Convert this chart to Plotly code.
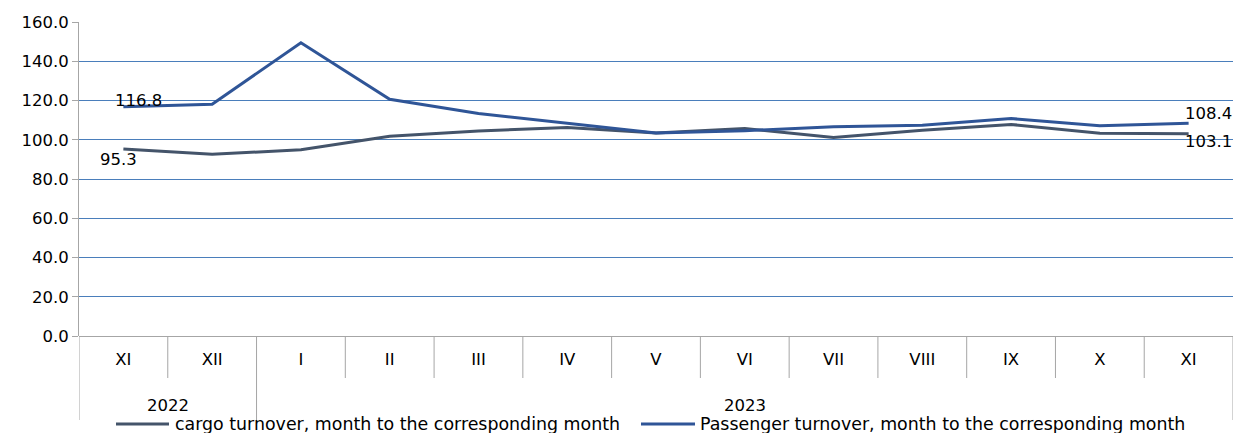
import plotly.graph_objects as go

years = ["2022", "2022", "2023", "2023", "2023", "2023", "2023", "2023", "2023", "2023", "2023", "2023", "2023"]
months = ["XI", "XII", "I", "II", "III", "IV", "V", "VI", "VII", "VIII", "IX", "X", "XI"]
cargo = [95.3, 92.6, 94.9, 101.8, 104.5, 106.2, 103.5, 105.7, 101.2, 104.8, 107.8, 103.3, 103.1]
passenger = [116.8, 118.1, 149.4, 120.6, 113.4, 108.3, 103.4, 104.6, 106.6, 107.4, 110.8, 107.1, 108.4]
cargo_name = "cargo turnover, month to the corresponding month"
pass_name = "Passenger turnover, month to the corresponding month"

FONT = "DejaVu Sans"
FS = 16.5
LEG_FS = 17.4
CARGO_COLOR = "#44546A"
PASS_COLOR = "#2F5597"
xs = list(range(len(months)))
n = len(months)

W, H = 1234, 433
ML, MR, MT, MB = 79, 1, 22, 97
plot_w = W - ML - MR
plot_h = H - MT - MB


def px_x(p):
    return (p - ML) / plot_w


def px_y(p):
    return (H - MB - p) / plot_h


fig = go.Figure()
fig.add_trace(go.Scatter(x=xs, y=cargo, mode="lines", name=cargo_name, showlegend=False,
                         line=dict(color=CARGO_COLOR, width=3)))
fig.add_trace(go.Scatter(x=xs, y=passenger, mode="lines", name=pass_name, showlegend=False,
                         line=dict(color=PASS_COLOR, width=3)))

# data labels
labels = [
    (0, passenger[0], 15, 6),
    (0, cargo[0], -5, -11),
    (n - 1, passenger[-1], 20, 10),
    (n - 1, cargo[-1], 20, -8),
]
for xi, yv, dx, dy in labels:
    fig.add_annotation(x=xi, y=yv, xref="x", yref="y", text=f"{yv:.1f}",
                       showarrow=False, xshift=dx, yshift=dy,
                       font=dict(family=FONT, size=FS, color="#000000"))

# month boundaries (short) and year boundaries (long)
short_y = px_y(378)
long_y = px_y(420)
bounds = [i - 0.5 for i in range(n + 1)]
group_bounds = [-0.5] + [i - 0.5 for i in range(1, n) if years[i] != years[i - 1]] + [n - 0.5]
for b in bounds:
    if b in group_bounds:
        continue
    fig.add_shape(type="line", xref="x", yref="paper", x0=b, x1=b, y0=0, y1=short_y,
                  line=dict(color="#A6A6A6", width=1))
for b in group_bounds:
    fig.add_shape(type="line", xref="x", yref="paper", x0=b, x1=b, y0=0, y1=long_y,
                  line=dict(color="#A6A6A6", width=1))

# year labels
for y in sorted(set(years)):
    idx = [i for i, v in enumerate(years) if v == y]
    fig.add_annotation(x=(idx[0] + idx[-1]) / 2, y=px_y(405), xref="x", yref="paper",
                       text=y, showarrow=False, yanchor="middle",
                       font=dict(family=FONT, size=FS, color="#000000"))

# legend (drawn as line samples + text, Excel style)
legend_items = [(cargo_name, CARGO_COLOR, 116, 169, 173), (pass_name, PASS_COLOR, 641, 695, 698)]
ly = px_y(424)
for name, color, x0, x1, tx in legend_items:
    fig.add_shape(type="line", xref="paper", yref="paper", x0=px_x(x0), x1=px_x(x1),
                  y0=ly, y1=ly, line=dict(color=color, width=3))
    fig.add_annotation(x=px_x(tx), y=ly, xref="paper", yref="paper", text=name,
                       showarrow=False, xanchor="left", yanchor="middle",
                       font=dict(family=FONT, size=LEG_FS, color="#000000"))

fig.update_layout(
    width=W, height=H,
    margin=dict(l=ML, r=MR, t=MT, b=MB, autoexpand=False),
    paper_bgcolor="white", plot_bgcolor="white",
    font=dict(family=FONT, size=FS, color="#000000"),
    showlegend=False,
)
fig.update_xaxes(range=[-0.5, n - 0.5], tickmode="array", tickvals=xs, ticktext=months,
                 showgrid=False, zeroline=False, showline=False, ticks="",
                 ticklabelstandoff=11, tickfont=dict(family=FONT, size=FS))
fig.update_yaxes(range=[0, 160], dtick=20, tickformat=".1f", showgrid=True,
                 gridcolor="#4A7EBB", gridwidth=1, zeroline=True, zerolinecolor="#A6A6A6",
                 zerolinewidth=1, showline=True, linecolor="#A6A6A6", linewidth=1,
                 ticks="outside", ticklen=6, tickcolor="#A6A6A6",
                 tickfont=dict(family=FONT, size=FS))

fig.write_html("out.html", config={"displayModeBar": False},
               post_script="document.body.style.margin='0';document.body.style.overflow='hidden';")
